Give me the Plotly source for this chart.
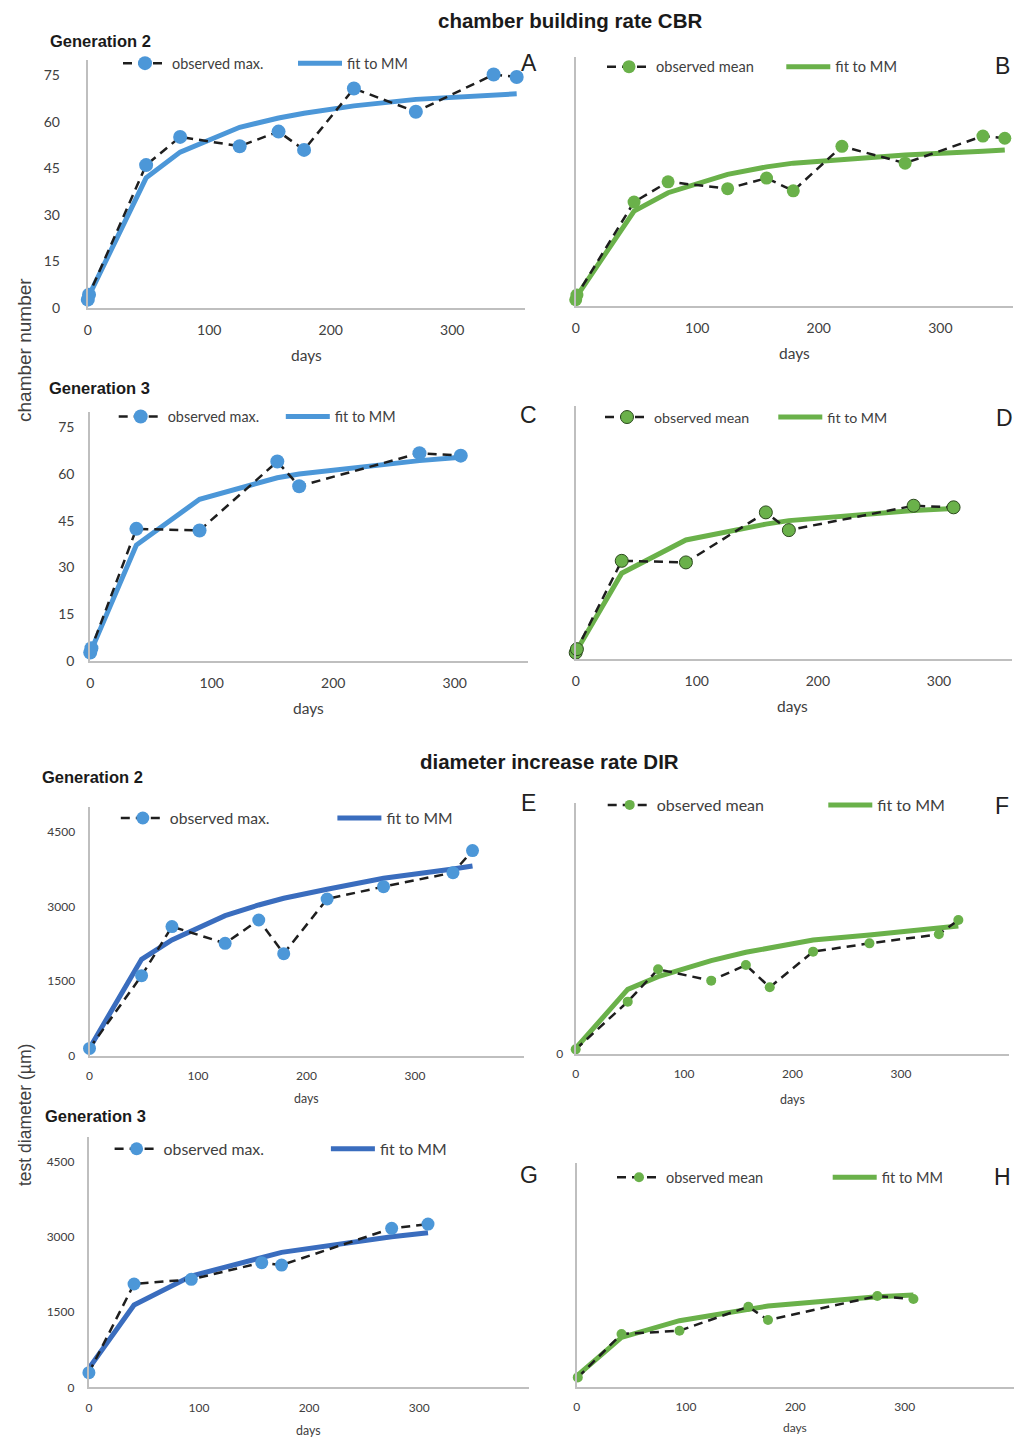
import plotly.graph_objects as go

# ---- data: chamber building rate (CBR) ----
days_A = [0, 1, 48, 76, 125, 157, 178, 219, 270, 334, 353]
obs_A = [2.7, 4.3, 46.1, 55.2, 52.2, 56.9, 51.0, 70.8, 63.3, 75.3, 74.5]
fit_A = [3.0, 4.0, 42.0, 50.3, 58.3, 61.3, 62.8, 65.2, 67.3, 68.6, 69.1]

days_B = [0, 1, 48, 76, 125, 157, 179, 219, 271, 335, 353]
obs_B = [2.0, 3.5, 33.4, 39.9, 37.7, 41.1, 37.0, 51.3, 45.9, 54.6, 53.9]
fit_B = [2.5, 3.2, 30.5, 36.4, 42.3, 44.7, 45.9, 47.2, 48.5, 49.7, 50.1]

days_C = [0, 1, 38, 90, 154, 172, 271, 305]
obs_C = [2.7, 4.1, 42.4, 41.9, 64.0, 56.1, 66.7, 65.9]
fit_C = [3.0, 3.6, 37.2, 51.9, 58.8, 60.0, 64.3, 65.4]

days_D = [0, 1, 38, 91, 157, 176, 279, 312]
obs_D = [2.1, 3.2, 31.1, 30.6, 46.4, 40.8, 48.5, 48.0]
fit_D = [2.4, 2.9, 27.2, 37.7, 42.7, 43.8, 47.0, 47.6]

# ---- data: diameter increase rate (DIR), test diameter in µm ----
days_E = [0, 48, 76, 125, 156, 179, 219, 271, 335, 353]
obs_E = [147, 1607, 2592, 2257, 2725, 2049, 3147, 3395, 3676, 4118]
fit_E = [150, 1935, 2324, 2813, 3027, 3161, 3341, 3563, 3750, 3810]

days_F = [0, 48, 76, 125, 157, 179, 219, 271, 335, 353]
obs_F = [93, 1044, 1689, 1463, 1775, 1330, 2041, 2207, 2387, 2673]
fit_F = [113, 1290, 1543, 1862, 2028, 2121, 2274, 2374, 2507, 2553]

days_G = [0, 41, 93, 157, 175, 275, 308]
obs_G = [292, 2061, 2154, 2486, 2439, 3171, 3257]
fit_G = [379, 1642, 2220, 2606, 2692, 3004, 3084]

days_H = [1, 41, 94, 157, 175, 275, 308]
obs_H = [208, 1176, 1250, 1786, 1488, 2024, 1957]
fit_H = [260, 1101, 1473, 1749, 1801, 2009, 2046]

cbr_yticks = [0, 15, 30, 45, 60, 75]
dir_yticks = [0, 1500, 3000, 4500]
x_ticks = [0, 100, 200, 300]

W, H = 1026, 1437
BLUE = "#4C97D8"
DBLUE = "#3A6DBE"
GREEN = "#6AB14A"
AXIS = "#BFBFBF"
TXT = "#404040"
FONT = "Lato, 'Open Sans', sans-serif"
ARIAL = "'Liberation Sans', Arial, sans-serif"


def px_x(p):
    return p / W


def px_y(p):
    return 1 - p / H


# panel layout in pixels: plot-area box (left, right, bottom, top), axis ranges,
# tick styling, legend entry positions (text start x, centre y), font sizes
panels = [
    dict(key="A", d=days_A, o=obs_A, f=fit_A, obs_name="observed max.", mc=BLUE, fc=BLUE,
         msize=14, mline=0, box=(87.8, 525.2, 308, 60), xr=360, yr=80, yt=cbr_yticks,
         tfs=14, ystand=23, leg=(172, 347, 63.3, 14.4), letter=(528.6, 63),
         days=(306.5, 355, 15.5)),
    dict(key="B", d=days_B, o=obs_B, f=fit_B, obs_name="observed mean", mc=GREEN, fc=GREEN,
         msize=13, mline=0, box=(575.7, 1013.3, 306, 57), xr=360, yr=80, yt=[],
         tfs=14, ystand=10, leg=(656, 835.3, 66.7, 14.6), letter=(1002, 66),
         days=(794, 352.7, 15.5)),
    dict(key="C", d=days_C, o=obs_C, f=fit_C, obs_name="observed max.", mc=BLUE, fc=BLUE,
         msize=14, mline=0, box=(90.2, 527.6, 661, 411.7), xr=360, yr=80, yt=cbr_yticks,
         tfs=14, ystand=11, leg=(167.7, 334.8, 416.7, 14.4), letter=(528.7, 415),
         days=(308.2, 708.3, 15.5)),
    dict(key="D", d=days_D, o=obs_D, f=fit_D, obs_name="observed mean", mc=GREEN, fc=GREEN,
         msize=13, mline=1, box=(575.7, 1011.7, 659.3, 406), xr=360, yr=80, yt=[],
         tfs=14, ystand=10, leg=(654, 827.3, 417.3, 14.2), letter=(1004, 418),
         days=(792.3, 706, 15.5)),
    dict(key="E", d=days_E, o=obs_E, f=fit_E, obs_name="observed max.", mc=BLUE, fc=DBLUE,
         msize=13, mline=0, box=(89.5, 523.5, 1055.7, 806.7), xr=400, yr=5000, yt=dir_yticks,
         tfs=12, ystand=10, leg=(169.8, 386.4, 818.3, 15.7), letter=(528.6, 803),
         days=(306.5, 1098.3, 12.4)),
    dict(key="F", d=days_F, o=obs_F, f=fit_F, obs_name="observed mean", mc=GREEN, fc=GREEN,
         msize=10, mline=0, box=(575.7, 1009.3, 1054, 803.3), xr=400, yr=5000, yt=[0],
         tfs=12, ystand=8, leg=(656.7, 877.3, 805, 16), letter=(1002, 806),
         days=(792.3, 1099, 12.5)),
    dict(key="G", d=days_G, o=obs_G, f=fit_G, obs_name="observed max.", mc=BLUE, fc=DBLUE,
         msize=13, mline=0, box=(88.9, 529.3, 1387.3, 1136.7), xr=400, yr=5000, yt=dir_yticks,
         tfs=12, ystand=10, leg=(163.6, 379.9, 1149, 15.8), letter=(528.7, 1175),
         days=(308.2, 1430, 12.4)),
    dict(key="H", d=days_H, o=obs_H, f=fit_H, obs_name="observed mean", mc=GREEN, fc=GREEN,
         msize=10, mline=0, box=(576.7, 1014, 1386.7, 1162.7), xr=400, yr=5000, yt=[],
         tfs=12, ystand=10, leg=(666, 881.7, 1177.3, 14.5), letter=(1002, 1177),
         days=(795, 1427.7, 12)),
]

ITEM_W = 44             # legend symbol width
TEXT_OFF = ITEM_W + 10  # distance from legend item origin to its text

fig = go.Figure()
annotations = []


def note(text, x, y, size, family=FONT, color=TXT, angle=0, xanchor="center"):
    annotations.append(dict(text=text, x=px_x(x), y=px_y(y), xref="paper", yref="paper",
                            xanchor=xanchor, yanchor="middle", showarrow=False,
                            textangle=angle, font=dict(family=family, size=size, color=color)))


for i, p in enumerate(panels, start=1):
    sfx = "" if i == 1 else str(i)
    xa, ya = "x" + sfx, "y" + sfx
    lg_obs = "legend" + ("" if i == 1 else str(2 * i - 1))
    lg_fit = "legend" + str(2 * i)

    # fitted Michaelis-Menten curve
    fig.add_trace(go.Scatter(
        x=p["d"], y=p["f"], xaxis=xa, yaxis=ya, mode="lines", name="fit to MM",
        line=dict(color=p["fc"], width=5), legend=lg_fit, showlegend=True, cliponaxis=False,
    ))
    # observations
    fig.add_trace(go.Scatter(
        x=p["d"], y=p["o"], xaxis=xa, yaxis=ya, mode="lines+markers", name=p["obs_name"],
        line=dict(color="#1E1E1E", width=2.5, dash="9px,6px"),
        marker=dict(color=p["mc"], size=p["msize"],
                    line=dict(color="#2C4A1E", width=p["mline"])),
        legend=lg_obs, showlegend=True, cliponaxis=False,
    ))

    l, r, b, t = p["box"]
    fig.layout["xaxis" + sfx] = dict(
        domain=[px_x(l), px_x(r)], range=[0, p["xr"]], anchor=ya,
        showline=True, linecolor=AXIS, linewidth=2, showgrid=False, zeroline=False,
        tickvals=x_ticks, ticks="", ticklabelstandoff=8,
        tickfont=dict(family=FONT, size=p["tfs"], color=TXT))
    fig.layout["yaxis" + sfx] = dict(
        domain=[px_y(b), px_y(t)], range=[0, p["yr"]], anchor=xa,
        showline=True, linecolor=AXIS, linewidth=2, showgrid=False, zeroline=False,
        tickvals=p["yt"], showticklabels=len(p["yt"]) > 0, ticks="",
        ticklabelstandoff=p["ystand"],
        tickfont=dict(family=FONT, size=p["tfs"], color=TXT))

    tx_obs, tx_fit, ly, lfs = p["leg"]
    for name, tx in ((lg_obs, tx_obs), (lg_fit, tx_fit)):
        fig.layout[name] = dict(
            x=px_x(tx - TEXT_OFF), y=px_y(ly), xanchor="left", yanchor="middle",
            orientation="h", bgcolor="rgba(0,0,0,0)", borderwidth=0,
            itemwidth=ITEM_W, font=dict(family=FONT, size=lfs, color=TXT),
        )

    note(p["key"], *p["letter"], 23, family=ARIAL, color="#222222")
    dx, dy, dfs = p["days"]
    note("days", dx, dy, dfs)

# section titles and generation labels
note("<b>chamber building rate CBR</b>", 570, 21, 20.5, family=ARIAL, color="#1A1A1A")
note("<b>diameter increase rate DIR</b>", 549.5, 761, 20.5, family=ARIAL, color="#1A1A1A")
note("<b>Generation 2</b>", 48.2, 41, 16.5, family=ARIAL, color="#1A1A1A", xanchor="left")
note("<b>Generation 3</b>", 47.2, 388, 16.5, family=ARIAL, color="#1A1A1A", xanchor="left")
note("<b>Generation 2</b>", 39.6, 776.7, 16.5, family=ARIAL, color="#1A1A1A", xanchor="left")
note("<b>Generation 3</b>", 43, 1116, 16.5, family=ARIAL, color="#1A1A1A", xanchor="left")

# shared y-axis titles
note("chamber number", 25, 350, 19, family=ARIAL, angle=-90)
note("test diameter (µm)", 25, 1115, 17.5, family=ARIAL, angle=-90)

fig.update_layout(
    width=W, height=H, margin=dict(l=0, r=0, t=0, b=0, autoexpand=False),
    paper_bgcolor="white", plot_bgcolor="white", showlegend=True,
    annotations=annotations,
)

fig.write_html("out.html")
